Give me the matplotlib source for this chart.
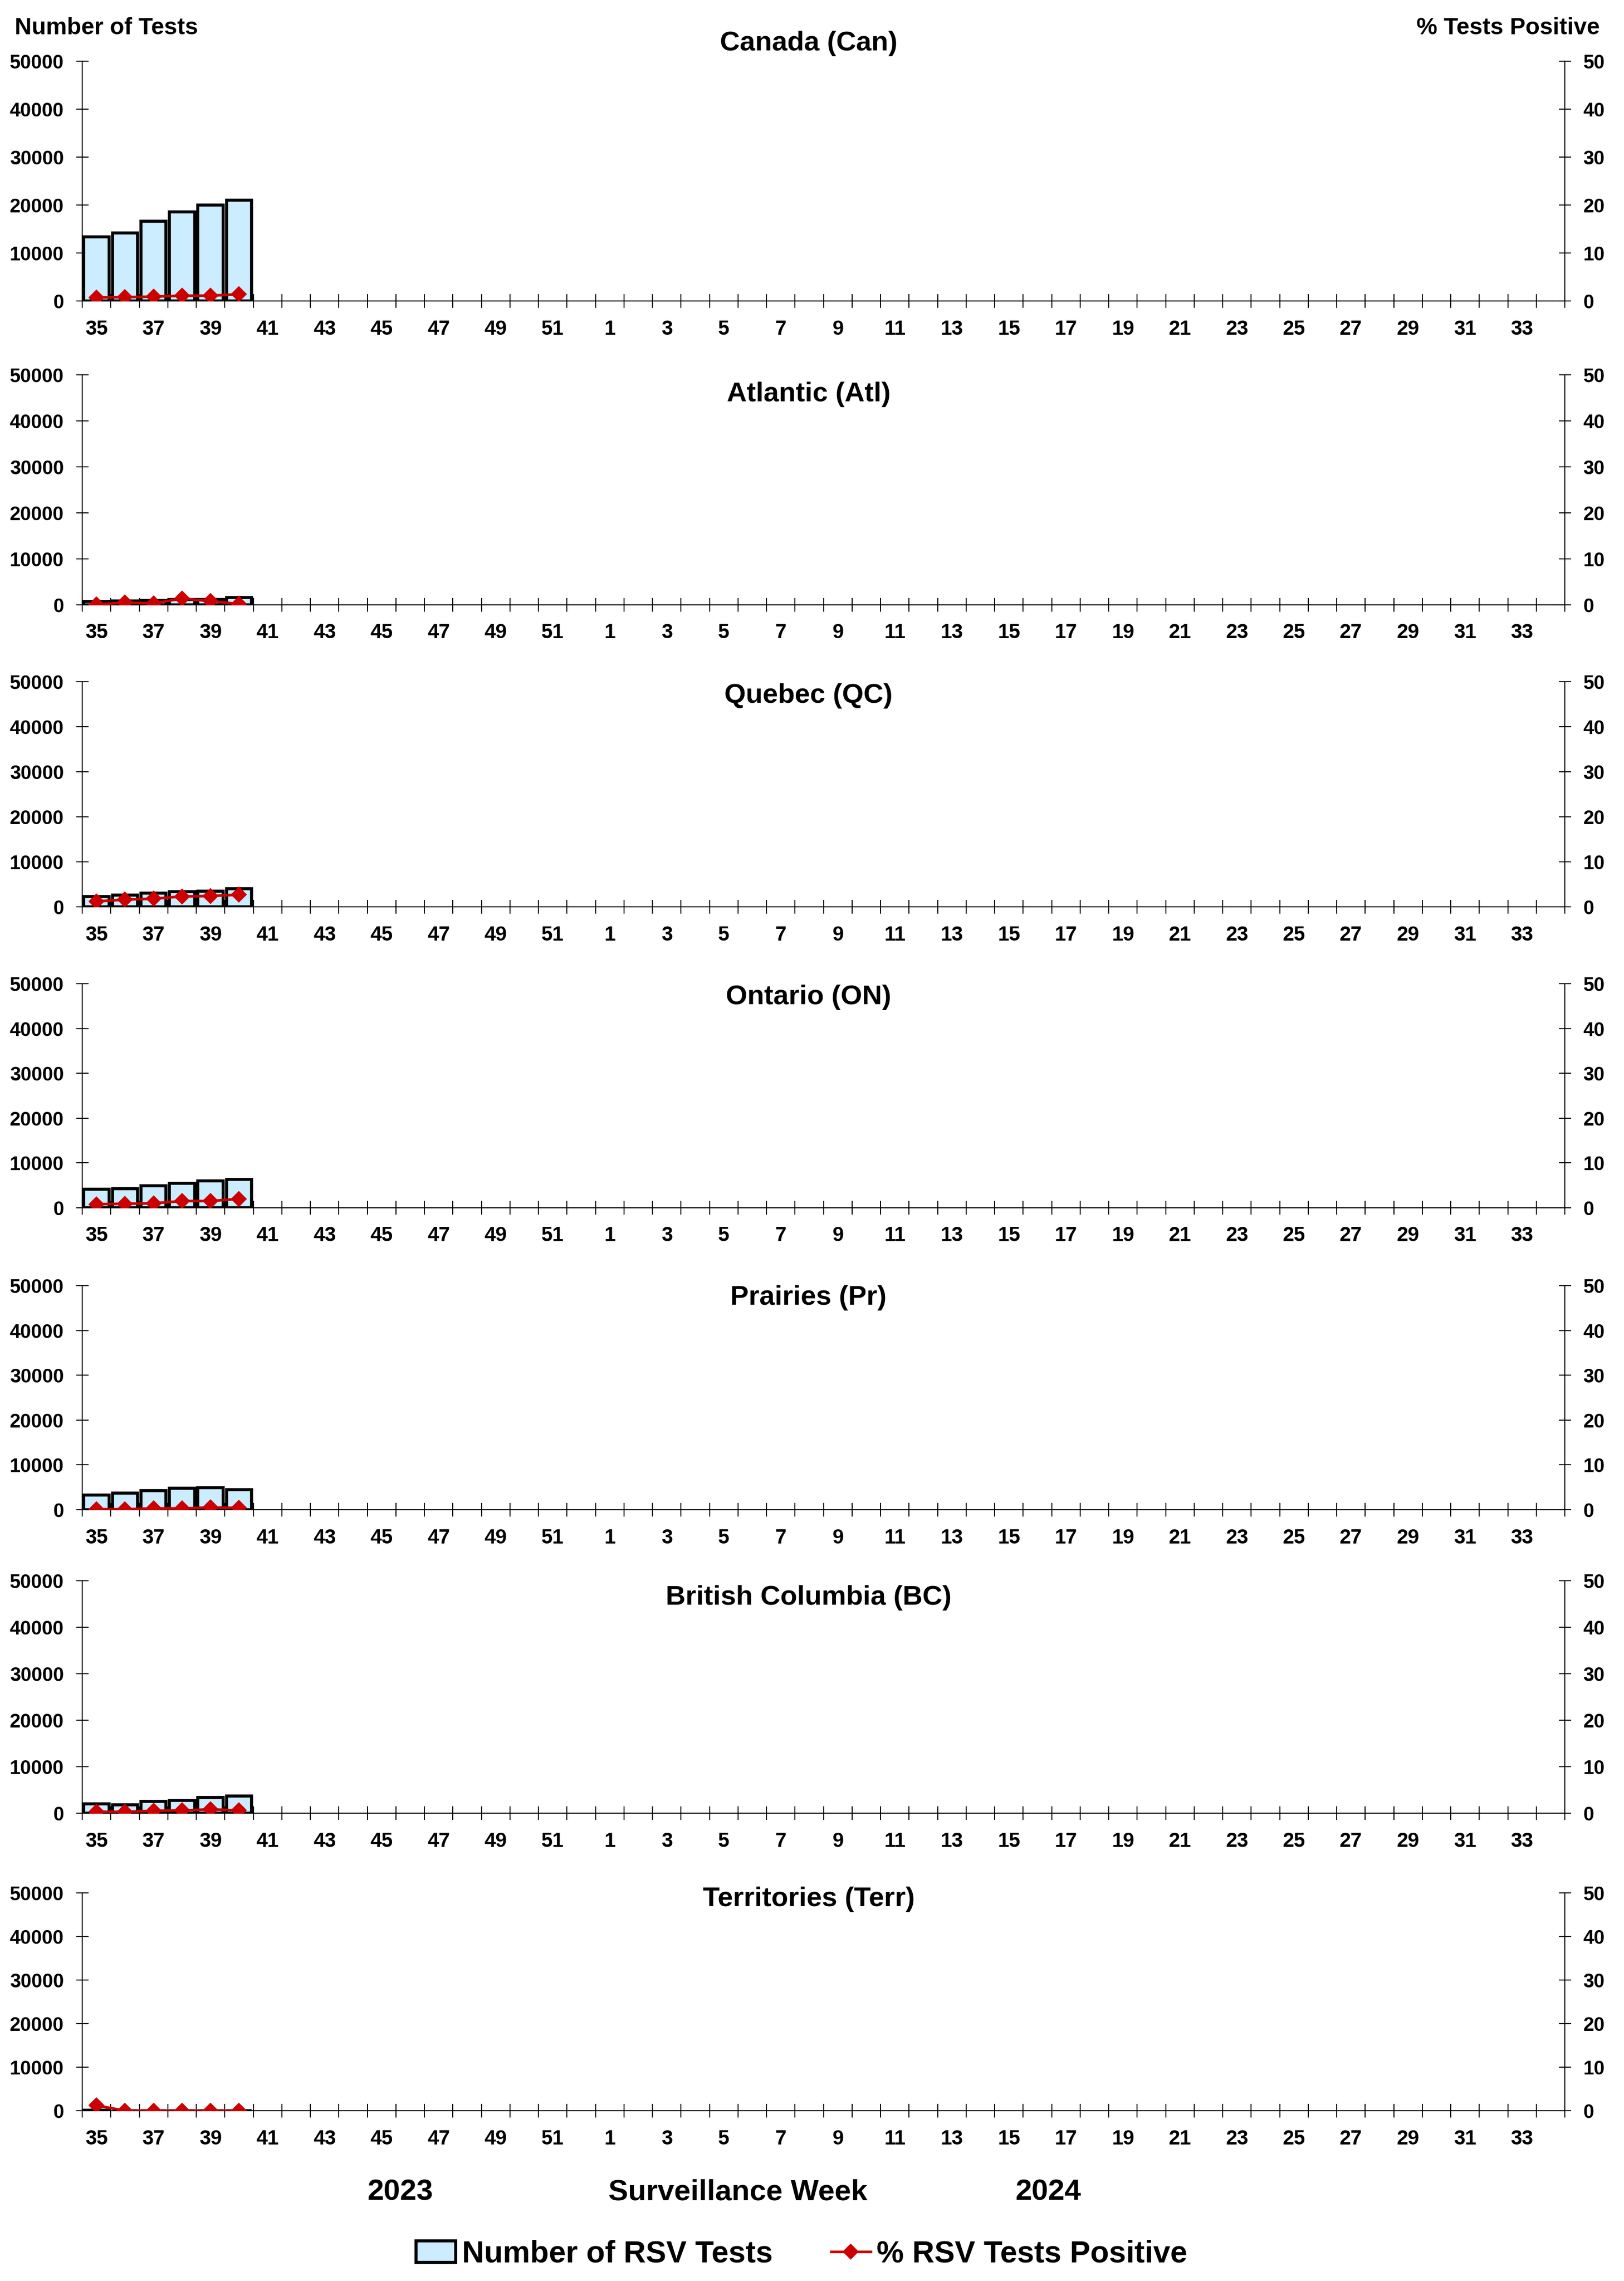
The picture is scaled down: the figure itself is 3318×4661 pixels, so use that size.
import matplotlib
matplotlib.use("Agg")
import matplotlib.pyplot as plt
import numpy as np
from matplotlib.patches import Patch
from matplotlib.lines import Line2D

plt.rcParams['font.family'] = ['Liberation Sans', 'DejaVu Sans']
plt.rcParams['font.weight'] = 'bold'

# surveillance weeks 35 (2023) .. 34 (2024)
weeks = list(range(35, 53)) + list(range(1, 35))
reported = [35, 36, 37, 38, 39, 40]

regions = ["Canada (Can)", "Atlantic (Atl)", "Quebec (QC)", "Ontario (ON)",
           "Prairies (Pr)", "British Columbia (BC)", "Territories (Terr)"]

tests_can = [13400, 14200, 16600, 18600, 20000, 21000]
tests_atl = [700, 900, 950, 1200, 1200, 1600]
tests_qc = [2300, 2600, 3000, 3400, 3500, 4050]
tests_on = [4100, 4250, 4950, 5450, 5950, 6300]
tests_pr = [3230, 3700, 4250, 4800, 4900, 4500]
tests_bc = [2000, 1830, 2560, 2740, 3400, 3690]
tests_terr = [60, 40, 50, 45, 55, 50]

pos_can = [0.7, 0.8, 0.9, 1.1, 1.1, 1.4]
pos_atl = [0.1, 0.5, 0.3, 1.4, 0.8, 0.2]
pos_qc = [1.2, 1.6, 1.8, 2.3, 2.4, 2.7]
pos_on = [0.8, 0.9, 1.0, 1.5, 1.5, 2.0]
pos_pr = [0.1, 0.1, 0.3, 0.3, 0.5, 0.4]
pos_bc = [0.3, 0.3, 0.5, 0.6, 0.8, 0.6]
pos_terr = [1.2, 0.0, 0.0, 0.0, 0.0, 0.0]

all_tests = [tests_can, tests_atl, tests_qc, tests_on, tests_pr, tests_bc, tests_terr]
all_pos = [pos_can, pos_atl, pos_qc, pos_on, pos_pr, pos_bc, pos_terr]

W, H = 3318, 4661
fig = plt.figure(figsize=(W / 300, H / 300), dpi=300)

# panel extents in pixels (top, bottom)
boxes = [(125, 615), (766, 1236), (1393, 1853), (2010, 2468),
         (2627, 3085), (3230, 3705), (3868, 4313)]
title_y = [89, 806, 1422, 2038, 2652, 3265, 3881]
x0, x1 = 168, 3197

bar_col = "#CCECFF"
red = "#CC0000"

idx = [weeks.index(w) for w in reported]
n = len(weeks)

for k in range(len(regions)):
    top, bot = boxes[k]
    ax = fig.add_axes([x0 / W, 1 - bot / H, (x1 - x0) / W, (bot - top) / H])
    ax.bar(idx, all_tests[k], width=0.88, color=bar_col, edgecolor="black",
           linewidth=1.5, zorder=2)
    ax.set_xlim(-0.5, n - 0.5)
    ax.set_ylim(0, 50000)
    ax.set_yticks(np.arange(0, 50001, 10000))
    ax.set_xticks(np.arange(-0.5, n, 1))
    ax.set_xticklabels([])
    ax.set_xticks(np.arange(0, n, 2), minor=True)
    ax.set_xticklabels([str(w) for w in weeks[::2]], minor=True)
    ax.tick_params(axis='x', which='major', direction='inout', length=6.5, width=0.5)
    ax.tick_params(axis='x', which='minor', length=0, pad=9, labelsize=10)
    ax.tick_params(axis='y', direction='inout', length=6, width=0.5, pad=6, labelsize=9.5)
    ax.spines['top'].set_visible(False)
    for s in ['left', 'right', 'bottom']:
        ax.spines[s].set_linewidth(0.5)

    ax2 = ax.twinx()
    ax2.plot(idx, all_pos[k], color=red, lw=1.3, marker='D', markersize=5,
             markeredgewidth=0.5, zorder=3)
    ax2.set_ylim(0, 50)
    ax2.set_yticks(np.arange(0, 51, 10))
    ax2.tick_params(axis='y', direction='inout', length=6, width=0.5, pad=6, labelsize=9.5)
    ax2.spines['top'].set_visible(False)
    for s in ['left', 'right', 'bottom']:
        ax2.spines[s].set_linewidth(0.5)

    fig.text(1652 / W, 1 - title_y[k] / H, regions[k], ha='center', va='center',
             fontsize=13.5, fontweight='bold')

fig.text(30 / W, 1 - 58 / H, "Number of Tests", ha='left', va='center',
         fontsize=11.5, fontweight='bold')
fig.text(3268 / W, 1 - 58 / H, "% Tests Positive", ha='right', va='center',
         fontsize=11.5, fontweight='bold')

fig.text(818 / W, 1 - 4480 / H, "2023", ha='center', va='center', fontsize=14.5, fontweight='bold')
fig.text(1508 / W, 1 - 4480 / H, "Surveillance Week", ha='center', va='center',
         fontsize=14.5, fontweight='bold')
fig.text(2142 / W, 1 - 4480 / H, "2024", ha='center', va='center', fontsize=14.5, fontweight='bold')

handles = [Patch(facecolor=bar_col, edgecolor='black', linewidth=1.5),
           Line2D([0], [0], color=red, lw=1.3, marker='D', markersize=5, markeredgewidth=0.5)]
fig.legend(handles, ["Number of RSV Tests", "% RSV Tests Positive"], loc='center',
           bbox_to_anchor=(1638 / W, 1 - 4606 / H), ncol=2, frameon=False,
           prop={'size': 15, 'weight': 'bold'}, handlelength=1.3, handletextpad=0.2,
           columnspacing=1.9, numpoints=1)

fig.savefig("out.png", dpi=300)
